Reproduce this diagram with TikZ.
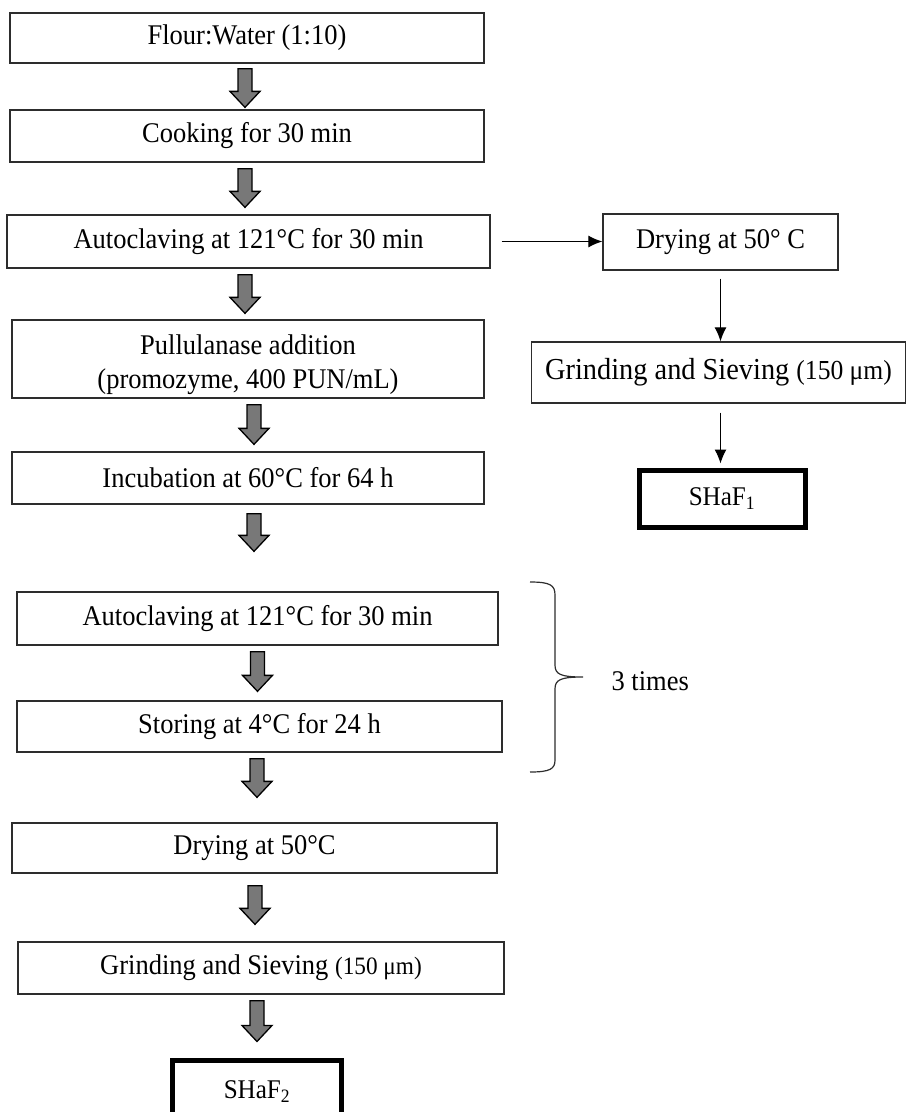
\documentclass[tikz,border=0pt]{standalone}
\usepackage{fontspec}
\setmainfont[FakeStretch=0.93]{Liberation Serif}
\usetikzlibrary{calc,arrows.meta}
\definecolor{arrowgray}{RGB}{120,120,120}
\definecolor{boxline}{RGB}{45,45,45}
\begin{document}
\begin{tikzpicture}[x=1pt,y=-1pt,
  box/.style={draw=boxline, line width=1.3pt, inner sep=0pt, align=center,
              font=\fontsize{28.5}{34}\selectfont},
  endbox/.style={draw=black, line width=5pt, inner sep=0pt, align=center,
              font=\fontsize{27}{30}\selectfont},
  fat/.style={draw=black, line width=1.3pt, fill=arrowgray, line join=miter,
    to path={let \p1=(\tikztostart), \p2=(\tikztotarget) in
      (\x1-7pt,\y1) -- (\x1+7pt,\y1) -- (\x1+7pt,\y2+16pt) -- (\x1+15pt,\y2+16pt)
      -- (\x1,\y2) -- (\x1-15pt,\y2+16pt) -- (\x1-7pt,\y2+16pt) -- cycle}},
  thin/.style={draw=black, line width=1.2pt, -{Latex[length=14pt,width=12pt]}}
]
\clip (0,0) rectangle (906,1112);
% left column
\node[box, minimum width=474, minimum height=50] (b1) at (247,38) {Flour:Water (1:10)};
\node[box, minimum width=474, minimum height=52] (b2) at (247,136) {Cooking for 30 min};
\node[box, minimum width=483, minimum height=53] (b3) at (248.5,241.5) {Autoclaving at 121°C for 30 min};
\node[box, minimum width=472, minimum height=78] (b4) at (248,359) {\rule{0pt}{31pt}Pullulanase addition\\(promozyme, 400 PUN/mL)};
\node[box, minimum width=472, minimum height=52] (b5) at (248,478) {Incubation at 60°C for 64 h};
\node[box, minimum width=481, minimum height=53] (b6) at (257.5,618.5) {Autoclaving at 121°C for 30 min};
\node[box, minimum width=485, minimum height=51] (b7) at (259.5,726.5) {Storing at 4°C for 24 h};
\node[box, minimum width=485, minimum height=50] (b8) at (254.5,848) {Drying at 50°C};
\node[box, minimum width=486, minimum height=52] (b9) at (261,968) {Grinding and Sieving {\fontsize{25}{28}\selectfont(150 μm)}};
\node[endbox, minimum width=169, minimum height=64] (b10) at (257,1092) {SHaF\textsubscript{2}};
% right column
\node[box, minimum width=235, minimum height=56] (r1) at (720.5,242) {Drying at 50° C};
\node[box, minimum width=374, minimum height=61, font=\fontsize{30.5}{36}\selectfont] (r2) at (718.5,372.5) {Grinding and Sieving {\fontsize{27.5}{32}\selectfont(150 μm)}};
\node[endbox, minimum width=166, minimum height=57] (r3) at (722,498.5) {SHaF\textsubscript{1}};
% fat arrows
\draw[fat] ([xshift=-2pt,yshift=-5pt]b1.south) to ([xshift=-2pt,yshift=2pt]b2.north);
\draw[fat] ([xshift=-2pt,yshift=-6pt]b2.south) to ([xshift=-2pt,yshift=7pt]b3.north);
\draw[fat] ([xshift=-3.5pt,yshift=-6pt]b3.south) to ([xshift=-3.5pt,yshift=6pt]b4.north);
\draw[fat] ([xshift=6pt,yshift=-6pt]b4.south) to ([xshift=6pt,yshift=7pt]b5.north);
\draw[fat] ([xshift=6pt,yshift=-9pt]b5.south) to ([xshift=6pt,yshift=40pt]b6.north);
\draw[fat] ([xshift=0pt,yshift=-6pt]b6.south) to ([xshift=0pt,yshift=9pt]b7.north);
\draw[fat] ([xshift=-2.5pt,yshift=-6pt]b7.south) to ([xshift=-2.5pt,yshift=25pt]b8.north);
\draw[fat] ([xshift=0.5pt,yshift=-12pt]b8.south) to ([xshift=0.5pt,yshift=17pt]b9.north);
\draw[fat] ([xshift=-4pt,yshift=-6pt]b9.south) to ([xshift=-4pt,yshift=16pt]b10.north);
% thin arrows
\draw[thin] ([xshift=11pt]b3.east) -- (r1.west |- b3.east);
\draw[thin] ([yshift=-8pt]r1.south) -- (r2.north -| r1.south);
\draw[thin] ([yshift=-9pt]r2.south -| r1.south) -- ([yshift=4pt]r3.north -| r1.south);
% brace
\draw[boxline, line width=1.2pt]
  (530,582) .. controls (550,582) and (555,585) .. (555,595) -- (555,665)
  .. controls (555,674) and (560,677) .. (583,677)
  .. controls (560,677) and (555,680) .. (555,689) -- (555,760)
  .. controls (555,769) and (550,772) .. (530,772);
\node[font=\fontsize{28.5}{32}\selectfont, anchor=west] (t3) at (608,681) {3 times};
\end{tikzpicture}
\end{document}
